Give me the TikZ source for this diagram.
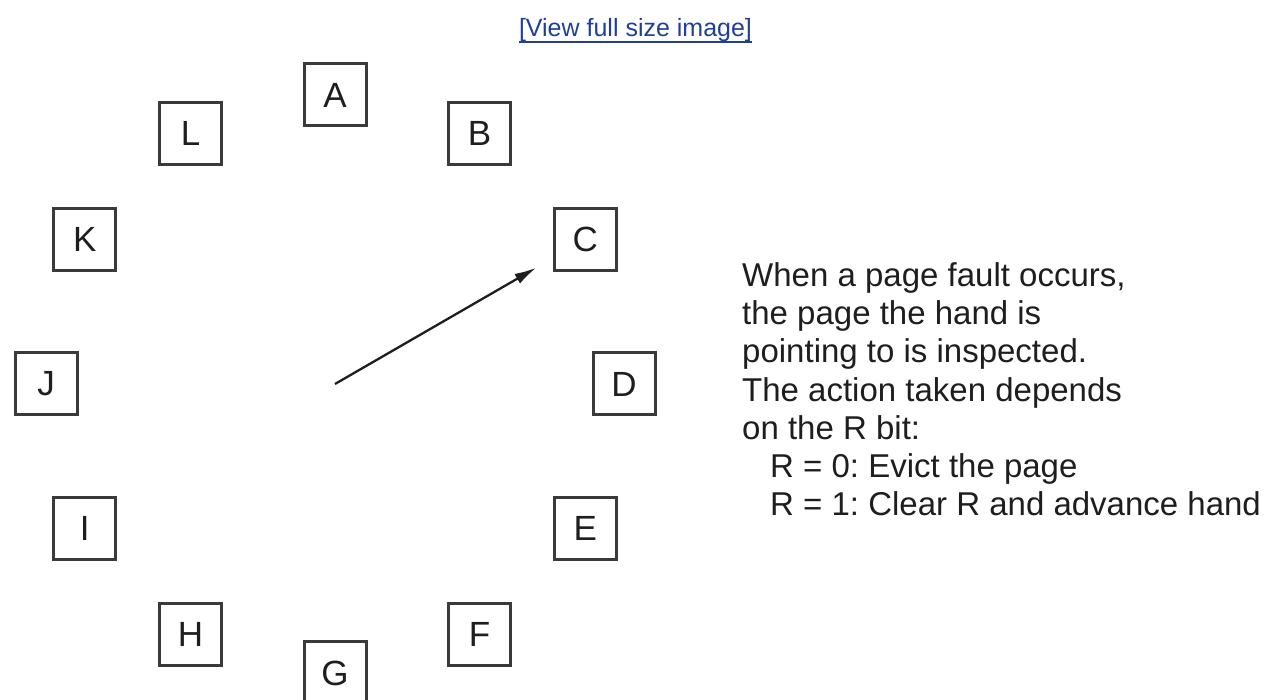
\documentclass[tikz,border=0pt]{standalone}
\usepackage{fontspec}
\setmainfont{Liberation Sans}
\usepackage{xcolor}
\usepackage{tikz}
\usetikzlibrary{arrows.meta,calc}
\definecolor{kutuGri}{HTML}{3A3A3A}
\definecolor{yaziSiyah}{HTML}{1E1E1E}
\definecolor{baglantiMavi}{HTML}{1F3F99}
\frenchspacing

\begin{document}
\begin{tikzpicture}[x=1pt,y=1pt, every node/.style={font=\fontsize{35}{40}\selectfont,text=yaziSiyah},
  sayfa/.style={draw=kutuGri,line width=3pt,minimum size=62pt,inner sep=0pt}]
\useasboundingbox (0,0) rectangle (1269,700);
\clip (0,0) rectangle (1269,700);
\node[text=baglantiMavi,inner sep=0pt,anchor=base,font=\fontsize{25}{30}\selectfont] (link) at (635.5,663) {[View full size image]};
\draw[baglantiMavi,line width=2pt] ([yshift=-5pt]link.base west)--([yshift=-5pt]link.base east);
\coordinate (hub) at (335,316);
\foreach \p [count=\i from 0] in {A,B,C,D,E,F,G,H,I,J,K,L}{
  \node[sayfa] (\p) at ($(hub)+(90-30*\i:289)$) {\p};
}
\draw[yaziSiyah,line width=2.3pt,-{Latex[length=22pt,width=11pt]},shorten >=19pt] (hub)--(C);
\node[anchor=base west,align=left,inner sep=0pt,font=\fontsize{33}{38.3}\selectfont] (aciklama) at (742,184) {When a page fault occurs,\\the page the hand is\\pointing to is inspected.\\The action taken depends\\on the R bit:\\\hspace*{28pt}R = 0: Evict the page\\\hspace*{28pt}R = 1: Clear R and advance hand};
\end{tikzpicture}
\end{document}
